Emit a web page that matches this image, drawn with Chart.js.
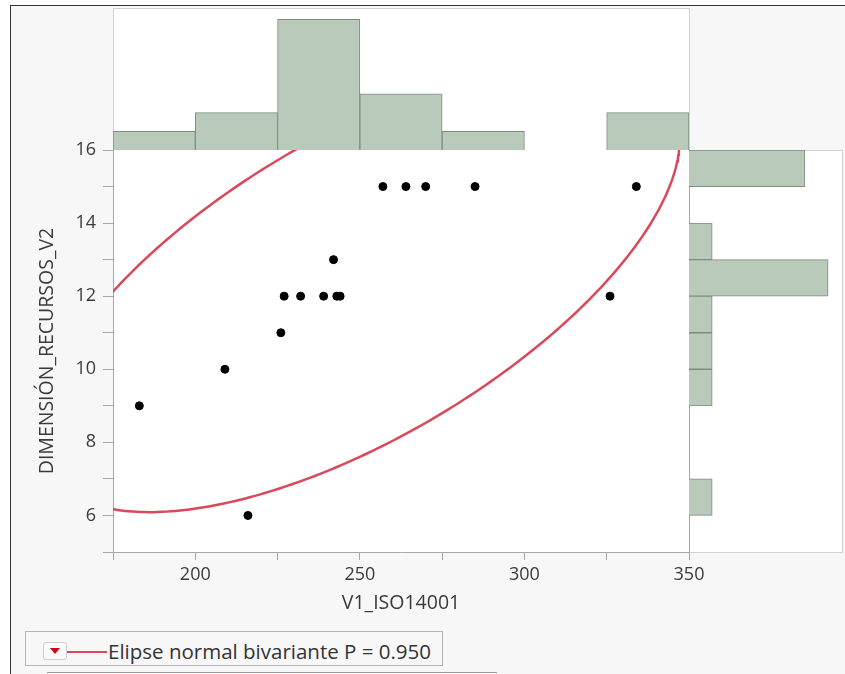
<!DOCTYPE html>
<html>
<head>
<meta charset="utf-8">
<script src="https://cdn.jsdelivr.net/npm/chart.js@4"></script>
<style>
  body { margin: 0; width: 845px; height: 674px; overflow: hidden; background: #fff; font-family: 'Open Sans', sans-serif; }
  .abs { position: absolute; box-sizing: border-box; }
  #frame { left: 10px; top: 5px; width: 840px; height: 680px; border-left: 1px solid #333; border-top: 1px solid #333; background: #f7f7f7; }
  #topBox { left: 113px; top: 8px; width: 577px; height: 143px; background: #fff; border: 1px solid #d2d2d2; }
  #plotBox { left: 113px; top: 150px; width: 576px; height: 402px; background: #fff; }
  #rightBox { left: 689px; top: 150px; width: 154px; height: 403px; background: #fff; border: 1px solid #d2d2d2; border-left: 1px solid #a8a8a8; }
  canvas { position: absolute; }
  #legendBox { left: 25px; top: 631px; width: 418px; height: 35px; border: 1px solid #b4b4b4; }
  #dropIcon { left: 43px; top: 642px; width: 24px; height: 18px; border: 1px solid #cfcfcf; border-radius: 3px; background: #fafafa; }
  #dropIcon::after { content: ''; position: absolute; left: 6px; top: 5px; border-left: 5px solid transparent; border-right: 5px solid transparent; border-top: 6px solid #d0021b; }
  #legendLine { left: 67px; top: 651px; width: 40px; height: 2px; background: #d9485b; }
  #legendText { left: 108px; top: 637px; font-size: 20.5px; line-height: 28px; color: #333; white-space: nowrap; }
  #underLine { left: 47px; top: 672px; width: 450px; height: 1px; background: #9a9a9a; }
</style>
</head>
<body>
<div id="frame" class="abs"></div>
<div id="topBox" class="abs"></div>
<div id="plotBox" class="abs"></div>
<div id="rightBox" class="abs"></div>
<canvas id="topHist" width="576" height="142" style="left:113px;top:8px;"></canvas>
<canvas id="rightHist" width="153" height="402" style="left:689px;top:150px;"></canvas>
<canvas id="mainChart" width="720" height="500" style="left:0;top:130px;"></canvas>
<div id="legendBox" class="abs"></div>
<div id="dropIcon" class="abs"></div>
<div id="legendLine" class="abs"></div>
<div id="legendText" class="abs">Elipse normal bivariante P = 0.950</div>
<div id="underLine" class="abs"></div>
<script>
// Data
const xValues = [183, 209, 216, 226, 227, 232, 239, 242, 243, 244, 257, 264, 270, 285, 326, 334];
const yValues = [9, 10, 6, 11, 12, 12, 12, 13, 12, 12, 15, 15, 15, 15, 12, 15];

// Marginal histograms (bins of 25 on x, bins of 1 on y, top to bottom)
const xBins = ['175', '200', '225', '250', '275', '300', '325'];
const xBinCounts = [1, 2, 7, 3, 1, 0, 2];
const yBins = ['15', '14', '13', '12', '11', '10', '9', '8', '7', '6', '5'];
const yBinCounts = [5, 0, 1, 6, 1, 1, 1, 0, 0, 1, 0];

const xMajorTicks = [200, 250, 300, 350];
const yMajorTicks = [6, 8, 10, 12, 14, 16];

const colors = {
    bar: '#b9c9ba',
    barBorder: '#7f8c80',
    ellipse: '#d9485b',
    axis: '#a8a8a8',
    text: '#3a3a3a'
};

// Bivariate normal ellipse, P = 0.95 (chi-square 2 df)
const chi2 = 5.991;
const n = xValues.length;
const mx = xValues.reduce((a, b) => a + b, 0) / n;
const my = yValues.reduce((a, b) => a + b, 0) / n;
let sxx = 0, syy = 0, sxy = 0;
for (let i = 0; i < n; i++) {
    sxx += (xValues[i] - mx) ** 2;
    syy += (yValues[i] - my) ** 2;
    sxy += (xValues[i] - mx) * (yValues[i] - my);
}
const sdx = Math.sqrt(sxx / (n - 1));
const sdy = Math.sqrt(syy / (n - 1));
const r = (sxy / (n - 1)) / (sdx * sdy);
const k = Math.sqrt(chi2);
const ellipsePts = [];
for (let i = 0; i <= 360; i++) {
    const t = i * Math.PI / 180;
    ellipsePts.push({
        x: mx + k * sdx * Math.cos(t),
        y: my + k * sdy * (r * Math.cos(t) + Math.sqrt(1 - r * r) * Math.sin(t))
    });
}

const tickFont = { family: "'Open Sans', sans-serif", size: 18 };
const titleFont = { family: "'Open Sans', sans-serif", size: 19.5 };

new Chart(document.getElementById('mainChart'), {
    type: 'scatter',
    data: {
        datasets: [{
            data: xValues.map((x, i) => ({ x: x, y: yValues[i] })),
            backgroundColor: '#000',
            borderColor: '#000',
            pointRadius: 4,
            order: 0
        }, {
            data: ellipsePts,
            showLine: true,
            pointRadius: 0,
            borderColor: colors.ellipse,
            borderWidth: 2.5,
            fill: false,
            order: 1
        }]
    },
    options: {
        responsive: false,
        animation: false,
        layout: { padding: { top: 20, right: 31, left: 0, bottom: 0 } },
        plugins: { legend: { display: false }, tooltip: { enabled: false } },
        scales: {
            x: {
                type: 'linear', min: 175, max: 350,
                afterFit: s => { s.height = 78; },
                ticks: {
                    stepSize: 25, autoSkip: false, maxRotation: 0, padding: 4,
                    font: tickFont, color: colors.text,
                    callback: v => xMajorTicks.includes(v) ? String(v) : ''
                },
                grid: { drawOnChartArea: false, tickLength: 8, color: colors.axis },
                border: { color: colors.axis },
                title: { display: true, text: 'V1_ISO14001', font: titleFont, color: colors.text, padding: { top: 0, bottom: 15 } }
            },
            y: {
                type: 'linear', min: 5, max: 16,
                afterFit: s => { s.width = 113; },
                ticks: {
                    stepSize: 1, autoSkip: false, padding: 7,
                    font: tickFont, color: colors.text,
                    callback: v => yMajorTicks.includes(v) ? String(v) : ''
                },
                grid: { drawOnChartArea: false, tickLength: 10, color: colors.axis },
                border: { color: colors.axis },
                title: { display: true, text: 'DIMENSIÓN_RECURSOS_V2', font: titleFont, color: colors.text, padding: { top: 36, bottom: 0 } }
            }
        }
    }
});

// Top marginal histogram
new Chart(document.getElementById('topHist'), {
    type: 'bar',
    data: {
        labels: xBins,
        datasets: [{
            data: xBinCounts,
            backgroundColor: colors.bar,
            borderColor: colors.barBorder,
            borderWidth: 1,
            barPercentage: 1,
            categoryPercentage: 1
        }]
    },
    options: {
        responsive: false,
        animation: false,
        layout: { padding: 0 },
        plugins: { legend: { display: false }, tooltip: { enabled: false } },
        scales: {
            x: { display: false },
            y: { display: false, min: 0, max: 7.6 }
        }
    }
});

// Right marginal histogram
new Chart(document.getElementById('rightHist'), {
    type: 'bar',
    data: {
        labels: yBins,
        datasets: [{
            data: yBinCounts,
            backgroundColor: colors.bar,
            borderColor: colors.barBorder,
            borderWidth: 1,
            barPercentage: 1,
            categoryPercentage: 1
        }]
    },
    options: {
        indexAxis: 'y',
        responsive: false,
        animation: false,
        layout: { padding: 0 },
        plugins: { legend: { display: false }, tooltip: { enabled: false } },
        scales: {
            x: { display: false, min: 0, max: 6.6 },
            y: { display: false }
        }
    }
});
</script>
</body>
</html>
